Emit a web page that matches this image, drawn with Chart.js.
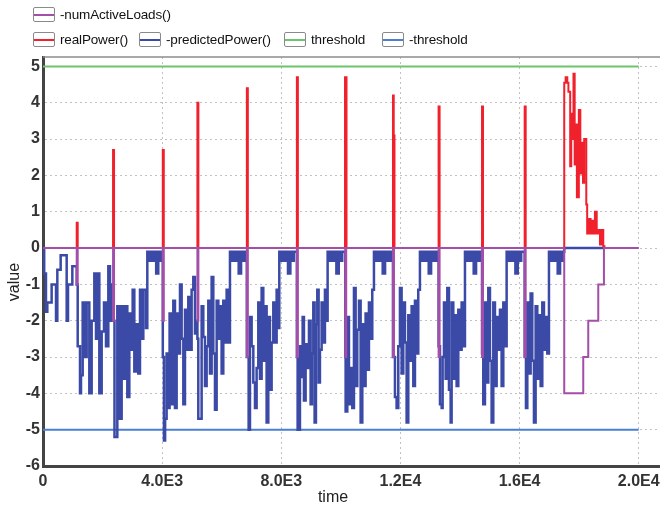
<!DOCTYPE html>
<html>
<head>
<meta charset="utf-8">
<script src="https://cdn.jsdelivr.net/npm/chart.js@4.4.0/dist/chart.umd.min.js"></script>
<style>
  html, body { margin: 0; padding: 0; background: #fff; }
  #wrap { position: relative; width: 660px; height: 510px; overflow: hidden; }
  #chart { display: block; }
  #legend { position: absolute; left: 0; top: 0; width: 660px; height: 56px;
    font-family: "Liberation Sans", Arial, sans-serif; font-size: 13.5px;
    letter-spacing: -0.15px; color: #111; }
  .item { position: absolute; display: flex; align-items: center; height: 15px; white-space: nowrap; }
  .box { position: relative; width: 22px; height: 15px; box-sizing: border-box;
    border: 1px solid #8a8a8a; border-radius: 2px; background: #fff; margin-right: 5px; }
  .box span { position: absolute; left: 0; right: 0; top: 5.5px; height: 2px; }
</style>
</head>
<body>
<div id="wrap">
  <canvas id="chart" width="660" height="510"></canvas>
  <div id="legend"></div>
</div>
<script>
// axis ticks
const xTicks = [0, 4000, 8000, 12000, 16000, 20000];
const xTickLabels = ['0', '4.0E3', '8.0E3', '1.2E4', '1.6E4', '2.0E4'];
const yTicks = [-6, -5, -4, -3, -2, -1, 0, 1, 2, 3, 4, 5];
const yTickLabels = ['-6', '-5', '-4', '-3', '-2', '-1', '0', '1', '2', '3', '4', '5'];

// -numActiveLoads()
const loadsT = [0, 1132, 1165, 2352, 2385, 4022, 4055, 5184, 5217, 6844,
  6877, 8524, 8557, 10147, 10180, 11750, 11783, 13282, 13315, 14740,
  14773, 16172, 16205, 17500, 18138, 18306, 18642, 18833, 20000];
const loadsV = [0, -1, 0, -2, 0, -2, 0, -2, 0, -3,
  0, -3, 0, -3, 0, -3, 0, -3, 0, -3,
  0, -3, 0, -4, -3, -2, -1, 0, 0];

// realPower()
const realT = [0, 1132, 1165, 2352, 2385, 4022, 4055, 5184, 5217, 6844,
  6877, 8524, 8557, 10140, 10190, 11750, 11775, 11800, 13282, 13315,
  14740, 14773, 16172, 16205, 17500, 17546, 17602, 17640, 17700, 17735,
  17770, 17810, 17850, 17885, 17925, 17990, 18040, 18075, 18130, 18170,
  18240, 18270, 18330, 18385, 18440, 18475, 18530, 18590, 18640, 18700,
  18750, 18810, 18850];
const realV = [0, 0.7, 0, 2.7, 0, 2.7, 0, 4.0, 0, 4.4,
  0, 4.7, 0, 4.7, 0, 4.2, 3.1, 0, 3.9, 0,
  3.9, 0, 3.9, 0, 4.55, 4.7, 4.55, 4.3, 2.25, 3.7,
  3.0, 4.8, 2.3, 3.4, 1.4, 3.8, 2.05, 2.9, 1.8, 3.0,
  1.2, 0.4, 0.8, 0.4, 0.75, 0.4, 1.0, 0.4, 0.5, 0.1,
  0.5, 0.05, 0];

// -predictedPower(), one line per load cycle
const predT = [
  0, 40, 100, 145, 290, 437, 481, 593, 795, 840, 985,
  1132, 1165, 1242, 1276, 1332, 1410, 1466, 1555, 1634, 1723, 1779, 1824, 1891, 1970, 2048, 2115, 2193, 2249, 2316,
  2352, 2400, 2495, 2562, 2641, 2697, 2753, 2831, 2898, 2954, 3010, 3066, 3144, 3200, 3256, 3312, 3368, 3458, 3502, 3570, 3610, 3680, 3730, 3800, 3870, 3930, 3975,
  4022, 4060, 4100, 4150, 4200, 4250, 4319, 4375, 4431, 4487, 4543, 4599, 4655, 4711, 4767, 4823, 4878, 4934, 4990, 5046, 5102, 5158,
  5184, 5214, 5326, 5382, 5438, 5494, 5550, 5606, 5662, 5718, 5774, 5830, 5886, 5942, 5997, 6053, 6109, 6165, 6221, 6277, 6345, 6390, 6450, 6500, 6570, 6650, 6710, 6765,
  6844, 6904, 6949, 7005, 7061, 7117, 7172, 7228, 7284, 7340, 7396, 7452, 7508, 7564, 7620, 7676, 7732, 7788, 7844, 7900, 7933, 8000, 8045, 8105, 8155, 8225, 8305, 8365, 8420,
  8524, 8549, 8627, 8661, 8717, 8761, 8817, 8873, 8929, 8985, 9030, 9075, 9119, 9164, 9209, 9254, 9298, 9354, 9410, 9466, 9522, 9556, 9625, 9670, 9730, 9780, 9850, 9930, 9990, 10045,
  10147, 10160, 10216, 10272, 10328, 10384, 10440, 10496, 10552, 10608, 10664, 10720, 10776, 10831, 10887, 10943, 10999, 11055, 11111, 11180, 11225, 11285, 11335, 11405, 11485, 11545, 11600, 11660, 11700,
  11750, 11816, 11872, 11928, 11984, 12040, 12096, 12152, 12208, 12264, 12320, 12376, 12432, 12488, 12544, 12599, 12655, 12725, 12770, 12830, 12880, 12950, 13030, 13090, 13145, 13200, 13240,
  13282, 13328, 13384, 13417, 13462, 13518, 13574, 13630, 13686, 13719, 13775, 13831, 13887, 13943, 13999, 14055, 14111, 14167, 14235, 14280, 14340, 14390, 14460, 14540, 14600, 14655,
  14740, 14782, 14838, 14894, 14950, 15006, 15062, 15118, 15174, 15230, 15286, 15342, 15398, 15454, 15510, 15566, 15635, 15680, 15740, 15790, 15860, 15940, 16000, 16055,
  16172, 16215, 16260, 16315, 16371, 16427, 16483, 16539, 16595, 16651, 16707, 16763, 16819, 16875, 16931, 16987, 17055, 17100, 17160, 17210, 17280, 17360, 17420, 17470, 17500, 18833
];
const predV = [
  0, -0.7, -1.75, -1.5, -1.0, -2.0, -0.6, -0.2, -2.0, -1.0, -0.5,
  -1.0, -2.7, -4.0, -3.5, -1.5, -3.0, -1.5, -4.0, -2.0, -0.7, -2.5, -0.7, -4.0, -2.3, -1.5, -2.7, -0.5, -2.0, -1.0,
  -2.0, -5.2, -1.6, -4.7, -1.6, -3.6, -1.6, -4.1, -1.8, -2.8, -1.15, -3.4, -2.1, -3.45, -1.15, -2.5, -1.15, -2.2, -0.1, -0.35, -0.1, -0.35, -0.1, -0.7, -0.1, -0.35, -0.1,
  -3.0, -5.3, -4.7, -2.9, -4.4, -1.8, -4.3, -1.45, -4.4, -1.8, -2.9, -1.0, -2.5, -4.3, -1.7, -2.8, -1.35, -2.8, -1.15, -0.8, -2.35, -2.0,
  -2.5, -4.7, -1.6, -2.45, -3.8, -2.7, -1.45, -3.45, -0.8, -2.9, -4.45, -1.45, -2.5, -1.6, -3.45, -1.45, -2.6, -1.15, -2.6, -0.1, -0.35, -0.1, -0.35, -0.1, -0.7, -0.1, -0.35, -0.1,
  -3.0, -5.0, -1.9, -2.7, -3.7, -4.4, -3.3, -1.5, -3.6, -1.1, -3.1, -1.6, -4.8, -1.9, -3.9, -2.6, -1.5, -2.6, -1.15, -2.2, -0.1, -0.35, -0.1, -0.35, -0.1, -0.7, -0.1, -0.35, -0.1,
  -3.0, -5.0, -2.7, -3.55, -1.9, -4.2, -2.65, -3.3, -2.0, -4.3, -2.9, -1.5, -4.8, -2.1, -1.15, -3.7, -2.8, -1.5, -2.6, -1.15, -2.0, -0.1, -0.35, -0.1, -0.35, -0.1, -0.7, -0.1, -0.35, -0.1,
  -3.0, -4.5, -1.9, -4.3, -3.3, -4.4, -1.1, -3.8, -2.25, -1.45, -4.8, -2.1, -3.8, -1.8, -3.35, -1.5, -2.5, -1.15, -0.1, -0.35, -0.1, -0.35, -0.1, -0.7, -0.1, -0.35, -0.1, -0.35, -0.1,
  -3.0, -4.1, -4.4, -2.7, -1.1, -3.45, -1.5, -2.6, -4.8, -1.85, -3.1, -1.6, -3.8, -1.45, -2.9, -1.15, -0.1, -0.35, -0.1, -0.35, -0.1, -0.7, -0.1, -0.35, -0.1, -0.35, -0.1,
  -2.7, -4.3, -4.4, -3.0, -1.5, -3.6, -1.1, -3.9, -4.8, -1.5, -3.6, -1.85, -3.8, -1.7, -2.8, -1.5, -2.7, -0.1, -0.35, -0.1, -0.35, -0.1, -0.7, -0.1, -0.35, -0.1,
  -2.9, -4.3, -1.5, -3.7, -1.1, -3.1, -4.8, -1.5, -3.8, -1.9, -2.8, -1.7, -3.8, -1.5, -2.7, -0.1, -0.35, -0.1, -0.35, -0.1, -0.7, -0.1, -0.35, -0.1,
  -3.0, -4.4, -1.5, -3.45, -1.25, -3.1, -4.8, -1.6, -3.6, -1.85, -3.8, -1.5, -2.8, -1.9, -2.9, -0.1, -0.35, -0.1, -0.35, -0.1, -0.7, -0.1, -0.35, -0.1, 0, 0
];

// threshold lines
const thresholdT = [0, 20000];
const thresholdV = [5, 5];
const negThresholdV = [-5, -5];

const toPoints = (ts, vs) => ts.map((t, i) => ({ x: t, y: vs[i] }));

const fontFamily = '"Liberation Sans", Arial, sans-serif';
Chart.defaults.font.family = fontFamily;

// top frame line + axis titles
const framePlugin = {
  id: 'frame',
  beforeDatasetsDraw(chart) {
    const { ctx, chartArea } = chart;
    ctx.save();
    ctx.strokeStyle = '#8c8c8c';
    ctx.lineWidth = 1.5;
    ctx.beginPath();
    ctx.moveTo(chartArea.left, chartArea.top);
    ctx.lineTo(chartArea.right, chartArea.top);
    ctx.stroke();
    ctx.restore();
  },
  afterDraw(chart) {
    const { ctx } = chart;
    ctx.save();
    ctx.fillStyle = '#222';
    ctx.font = '16px ' + fontFamily;
    ctx.textAlign = 'center';
    ctx.textBaseline = 'middle';
    ctx.fillText('time', 333, 498);
    ctx.translate(15, 282);
    ctx.rotate(-Math.PI / 2);
    ctx.fillText('value', 0, 0);
    ctx.restore();
  },
};

const line = (label, color, width, ts, vs) => ({
  label: label,
  data: toPoints(ts, vs),
  borderColor: color,
  backgroundColor: color,
  borderWidth: width,
  stepped: true,
  pointRadius: 0,
  fill: false,
});

const chart = new Chart(document.getElementById('chart'), {
  type: 'line',
  data: {
    datasets: [
      line('-numActiveLoads()', '#a34ea8', 2, loadsT, loadsV),
      line('realPower()', '#f0202c', 2, realT, realV),
      line('-predictedPower()', '#3b4aa6', 2.5, predT, predV),
      line('threshold', '#6cc46c', 2, thresholdT, thresholdV),
      line('-threshold', '#4a7fd2', 2, thresholdT, negThresholdV),
    ],
  },
  options: {
    responsive: false,
    animation: false,
    devicePixelRatio: 1,
    layout: { padding: { top: 57, left: 0, right: 0, bottom: 0 } },
    plugins: {
      legend: { display: false },
      tooltip: { enabled: false },
    },
    scales: {
      x: {
        type: 'linear',
        min: 0,
        max: 20715,
        afterBuildTicks: (s) => { s.ticks = xTicks.map((v) => ({ value: v })); },
        afterFit: (s) => { s.height = 44; s.paddingLeft = 0; s.paddingRight = 0; },
        ticks: {
          callback: (v, i) => xTickLabels[i],
          autoSkip: false,
          maxRotation: 0,
          padding: 6,
          color: '#333',
          font: { size: 16, weight: 'bold' },
        },
        grid: { color: '#c2c2c2', lineWidth: 1, drawTicks: false },
        border: { color: '#444', width: 3, dash: [2, 3] },
      },
      y: {
        type: 'linear',
        min: -6,
        max: 5.26,
        afterBuildTicks: (s) => { s.ticks = yTicks.map((v) => ({ value: v })); },
        afterFit: (s) => { s.width = 43; s.paddingTop = 0; s.paddingBottom = 0; },
        ticks: {
          callback: (v, i) => yTickLabels[i],
          autoSkip: false,
          padding: 3,
          color: '#333',
          font: { size: 16, weight: 'bold' },
        },
        grid: { color: '#c2c2c2', lineWidth: 1, drawTicks: false },
        border: { color: '#444', width: 3, dash: [2, 3] },
      },
    },
  },
  plugins: [framePlugin],
});

// legend built from the datasets, placed like the original two rows
const legendSpots = [[33, 7], [33, 32], [139, 32], [284, 32], [382, 32]];
const legendEl = document.getElementById('legend');
chart.data.datasets.forEach((ds, i) => {
  const item = document.createElement('div');
  item.className = 'item';
  item.style.left = legendSpots[i][0] + 'px';
  item.style.top = legendSpots[i][1] + 'px';
  item.innerHTML = '<div class="box"><span style="background:' + ds.borderColor + '"></span></div>'
    + '<span class="lbl">' + ds.label + '</span>';
  legendEl.appendChild(item);
});
</script>
</body>
</html>
